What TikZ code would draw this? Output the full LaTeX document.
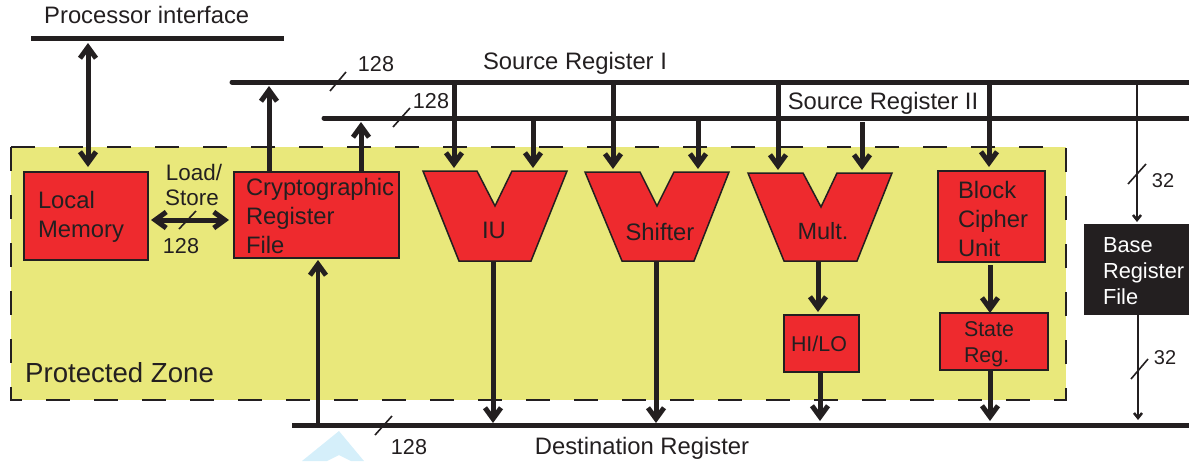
\documentclass[tikz,border=0pt]{standalone}
\usepackage{fontspec}
\setmainfont{Liberation Sans}
\usetikzlibrary{arrows.meta,calc}
\definecolor{inkblack}{HTML}{231F20}
\definecolor{boxred}{HTML}{EE2A2E}
\definecolor{zoneyellow}{HTML}{E9E87B}
\definecolor{markblue}{HTML}{D5EFFA}
\tikzset{
  bighead/.tip={Straight Barb[length=11pt,width=16pt,line width=5pt]},
  busline/.style={draw=inkblack, line width=5pt},
  bigarrow/.style={draw=inkblack, line width=5pt, -bighead},
  bigboth/.style={draw=inkblack, line width=5pt, bighead-bighead},
  thinarrow/.style={draw=inkblack, line width=2.5pt, -{Straight Barb[length=5pt,width=8pt,line width=2.5pt]}},
  slashmark/.style={draw=inkblack, line width=1.6pt},
  redbox/.style={draw=inkblack, fill=boxred, line width=1.5pt, inner sep=0pt, outer sep=0pt, align=left, text=inkblack},
  boxpad/.style 2 args={execute at begin node={\leftskip=#1pt\rule{0pt}{#2pt}}},
  unitshape/.style={draw=inkblack, fill=boxred, line width=1.5pt},
  txt/.style={inner sep=0pt, text=inkblack, font=\fontsize{#1}{#1}\selectfont},
  txt/.default=23.8
}
\begin{document}
\begin{tikzpicture}[x=1pt, y=-1pt]
  \useasboundingbox (0,0) rectangle (1189,461);

  % Faint mark at the bottom edge
  \fill[markblue] (339,431) -- (364,461) -- (351,461) -- (339,455) -- (327,461) -- (302,461) -- cycle;

  % Protected zone
  \fill[zoneyellow] (11,147) rectangle (1066,400);
  \draw[inkblack, line width=1.5pt, dash pattern=on 24pt off 24pt] (11,147) rectangle (1066,400);
  \node[txt=27.6, anchor=west] (zonelabel) at (25,373) {Protected Zone};

  % Buses
  \coordinate (procL) at (31,38);   \coordinate (procR) at (284,38);
  \coordinate (srcIL) at (232,82);  \coordinate (srcIR) at (1189,82);
  \coordinate (srcIIL) at (324,118); \coordinate (srcIIR) at (1189,118);
  \coordinate (destL) at (292,425); \coordinate (destR) at (1189,425);
  \draw[busline] (procL) -- (procR);
  \draw[busline, line cap=round] (srcIL) -- (srcIR);
  \draw[busline, line cap=round] (srcIIL) -- (srcIIR);
  \draw[busline] (destL) -- (destR);

  % Bus labels
  \node[txt, anchor=west] (proclabel) at (44,15) {Processor interface};
  \node[txt] (srcIlabel) at (575,63) {Source Register I};
  \node[txt] (srcIIlabel) at (883,103) {Source Register II};
  \node[txt] (destlabel) at (642,448) {Destination Register};

  % Register files and boxes
  \node[redbox, boxpad={14}{19.3}, anchor=north west, minimum height=88pt, text width=124pt, font=\fontsize{23.8}{29}\selectfont] (local) at (24,172) {Local\\Memory};
  \node[redbox, boxpad={12}{19.7}, anchor=north west, minimum height=86pt, text width=165pt, font=\fontsize{23.8}{29}\selectfont] (crypto) at (234,172) {Cryptographic\\Register\\File};
  \node[redbox, boxpad={20}{21.3}, anchor=north west, minimum height=91pt, text width=107pt, font=\fontsize{23.8}{29}\selectfont] (cipher) at (938,171) {Block\\Cipher\\Unit};
  \node[redbox, boxpad={7}{0}, anchor=north west, minimum height=57pt, text width=75pt, font=\fontsize{21.4}{26}\selectfont] (hilo) at (784,315) {HI/LO};
  \node[redbox, boxpad={24}{19.8}, anchor=north west, minimum height=57pt, text width=108pt, font=\fontsize{21.4}{26}\selectfont] (state) at (940,313) {State\\Reg.};
  \node[fill=inkblack, inner sep=0pt, outer sep=0pt, text=white, align=left, boxpad={19}{17.7}, anchor=north west, minimum height=91pt, text width=105pt, font=\fontsize{21.8}{26}\selectfont] (base) at (1084,224) {Base\\Register\\File};

  % Execution units
  \draw[unitshape] (423,171) -- (477,171) -- (495,206) -- (512,171) -- (567,171) -- (531,261) -- (459,261) -- cycle;
  \draw[unitshape] (585,172) -- (640,172) -- (657,206) -- (674,172) -- (729,172) -- (694,261) -- (622,261) -- cycle;
  \draw[unitshape] (748,173) -- (803,173) -- (821,207) -- (837,173) -- (892,173) -- (857,261) -- (784,261) -- cycle;
  \node[txt] (iu) at (494,230) {IU};
  \node[txt] (shifter) at (660,232) {Shifter};
  \node[txt=23.5] (mult) at (823,231) {Mult.};

  % Unit ports
  \coordinate (iuA) at (454,168);  \coordinate (iuB) at (533,168);
  \coordinate (shA) at (613,169);  \coordinate (shB) at (698,169);
  \coordinate (muA) at (778,170);  \coordinate (muB) at (862,170);
  \coordinate (muBtop) at (862,122);
  \coordinate (ciA) at (989,167);
  \coordinate (baseIn) at (1137,222);
  \coordinate (iuOut) at (493,261); \coordinate (shOut) at (656,261); \coordinate (muOut) at (818,261);
  \coordinate (ciOut) at (990,265);
  \coordinate (destIn) at (0,423);

  % Source arrows
  \draw[bigarrow] (iuA |- srcIL) -- (iuA);
  \draw[bigarrow] (iuB |- srcIIL) -- (iuB);
  \draw[bigarrow] (shA |- srcIL) -- (shA);
  \draw[bigarrow] (shB |- srcIIL) -- (shB);
  \draw[bigarrow] (muA |- srcIL) -- (muA);
  \draw[bigarrow] (muBtop) -- (muB);
  \draw[bigarrow] (ciA |- srcIL) -- (ciA);
  \draw[thinarrow] (baseIn |- srcIL) -- (baseIn);

  % Processor and register file arrows
  \coordinate (localIn) at (88,167);
  \coordinate (procOut) at (88,43);
  \coordinate (loadL) at (151,220);
  \coordinate (loadR) at (229,220);
  \coordinate (cryA) at (269,172);
  \coordinate (cryB) at (361,172);
  \coordinate (cryIn) at (318,260);
  \draw[bigboth] (procOut) -- (localIn);
  \draw[bigboth] (loadL) -- (loadR);
  \draw[bigarrow] (cryA) -- (cryA |- 0,86);
  \draw[bigarrow] (cryB) -- (cryB |- 0,122);
  \draw[bigarrow, line width=4pt] (cryIn |- destL) -- (cryIn);

  % Destination arrows
  \draw[bigarrow] (iuOut) -- (iuOut |- destIn);
  \draw[bigarrow] (shOut) -- (shOut |- destIn);
  \draw[bigarrow] (muOut) -- (muOut |- 0,312);
  \draw[bigarrow] (820,372) -- (820,421);
  \draw[bigarrow] (ciOut) -- (ciOut |- state.north);
  \draw[bigarrow] (ciOut |- state.south) -- (ciOut |- 0,421);
  \draw[thinarrow] (1138,315) -- (1138,420);

  % Width marks
  \draw[slashmark] (330,91) -- (346,72);
  \draw[slashmark] (393,127) -- (410,108);
  \draw[slashmark] (179,229) -- (196,211);
  \draw[slashmark] (375,435) -- (392,416);
  \draw[slashmark] (1128,184) -- (1146,164);
  \draw[slashmark] (1131,379) -- (1148,359);
  \node[txt=21.6] (wI) at (376,64) {128};
  \node[txt=21.6] (wII) at (431,101) {128};
  \node[txt=21.6] (wload) at (181,246) {128};
  \node[txt=21.6] (wdest) at (409,447) {128};
  \node[txt=20] (wbaseA) at (1163,181) {32};
  \node[txt=20] (wbaseB) at (1165,358) {32};
  \node[txt=22.4] (loadlabel) at (194,172) {Load/};
  \node[txt=22.4] (storelabel) at (192,198) {Store};
\end{tikzpicture}
\end{document}
